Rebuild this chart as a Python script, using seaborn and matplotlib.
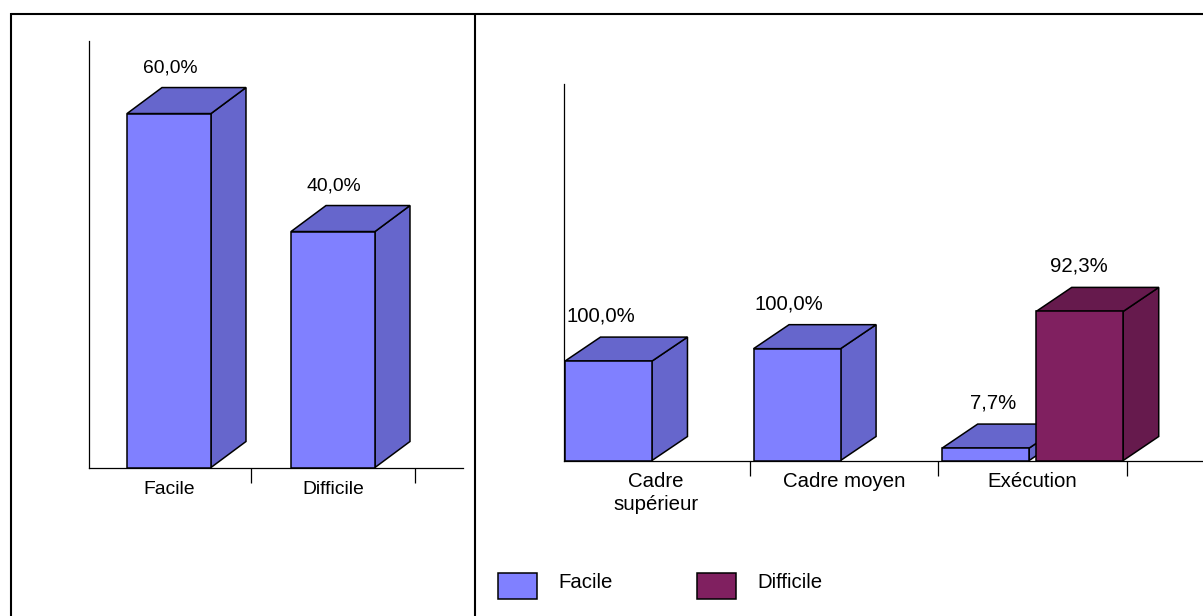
import matplotlib
matplotlib.use("Agg")
import matplotlib.pyplot as plt
from matplotlib.lines import Line2D
from matplotlib.patches import Polygon, Rectangle
import pandas as pd
import seaborn as sns

# Overall answers, in percent
overall_levels = ["Facile", "Difficile"]
overall_percent = [60.0, 40.0]

# Answers per staff category, in head counts
staff_levels = ["Cadre\nsupérieur", "Cadre moyen", "Exécution"]
staff_easy = [8, 9, 1]
staff_hard = [0, 0, 12]

W, H = 1203, 616
DPI = 100
LEFT_TEXT = 13.9
RIGHT_TEXT = 14.7
EASY, EASY_DARK = "#8080FF", "#6666CC"
HARD, HARD_DARK = "#802060", "#661A4D"

sns.set_theme(style="white")
plt.rcParams["font.family"] = ["Liberation Sans", "DejaVu Sans"]


def fx(px):
    return px / W


def fy(py):
    return 1 - py / H


def panel(left, top, right, bottom):
    return fig.add_axes([fx(left), fy(bottom), fx(right - left), (bottom - top) / H])


def fr(value):
    return f"{value:.1f}".replace(".", ",") + "%"


def extrude(ax, bar, depth_x, depth_y, dark, order):
    """Add the top and side faces that turn a flat bar into a box."""
    to_data = ax.transData.inverted()
    x0, y0 = to_data.transform((0, 0))
    x1, y1 = to_data.transform((depth_x, depth_y))
    dx, dy = x1 - x0, y1 - y0
    left, right = bar.get_x(), bar.get_x() + bar.get_width()
    top = bar.get_height()
    style = dict(facecolor=dark, edgecolor="black", linewidth=1.1,
                 joinstyle="miter", clip_on=False, zorder=order)
    ax.add_patch(Polygon([(right, 0), (right + dx, dy), (right + dx, top + dy), (right, top)], **style))
    ax.add_patch(Polygon([(left, top), (left + dx, top + dy), (right + dx, top + dy), (right, top)], **style))
    bar.set_zorder(order + 0.05)
    bar.set_clip_on(False)
    bar.set_joinstyle("miter")


def style_axis(ax, boundaries, pad, tick_length, size):
    sns.despine(ax=ax)
    for spine in ("left", "bottom"):
        ax.spines[spine].set_color("black")
        ax.spines[spine].set_linewidth(0.9)
    ax.set_xlabel("")
    ax.set_ylabel("")
    ax.set_yticks([])
    ax.set_xticks(boundaries, minor=True)
    ax.tick_params(axis="x", which="major", length=0, pad=pad, labelsize=size, colors="black")
    ax.tick_params(axis="x", which="minor", bottom=True, length=tick_length, width=0.9, color="black")
    for label in ax.get_xticklabels():
        label.set_linespacing(1.22)


fig = plt.figure(figsize=(W / DPI, H / DPI), dpi=DPI, facecolor="white")

# Left panel: overall distribution
ax_left = panel(89, 41, 463, 467.5)
sns.barplot(
    data=pd.DataFrame({"level": overall_levels, "percent": overall_percent}),
    x="level", y="percent", color=EASY, saturation=1, width=0.512,
    edgecolor="black", linewidth=1.1, ax=ax_left,
)
ax_left.set_xlim((89 - 169) / 164, (463 - 169) / 164)
ax_left.set_ylim(0, 72.3)
style_axis(ax_left, [0.5, 1.5], 9.6, 11, LEFT_TEXT)
for i, (bar, value) in enumerate(zip(ax_left.patches[:2], overall_percent)):
    extrude(ax_left, bar, 35, 26, EASY_DARK, 3 + i)
    ax_left.annotate(fr(value), (bar.get_x() + bar.get_width() / 2, value),
                     xytext=(1, 46), textcoords="offset pixels", fontsize=LEFT_TEXT,
                     ha="center", va="center", color="black", zorder=10)

# Right panel: distribution per staff category
ax_right = panel(564, 84, 1203, 460.5)
staff_table = pd.DataFrame({
    "category": staff_levels * 2,
    "answer": ["Facile"] * 3 + ["Difficile"] * 3,
    "count": staff_easy + staff_hard,
})
sns.barplot(
    data=staff_table, x="category", y="count", hue="answer",
    hue_order=overall_levels, palette={"Facile": EASY, "Difficile": HARD},
    saturation=1, width=0.9974, gap=0.075, legend=False,
    edgecolor="black", linewidth=1.1, ax=ax_right,
)
ax_right.set_xlim((564 - 655.5) / 188.6, (1203 - 655.5) / 188.6)
ax_right.set_ylim(0, 30.3)
style_axis(ax_right, [0.5, 1.5, 2.5], 8.6, 11, RIGHT_TEXT)

easy_bars = sorted(ax_right.patches[:3], key=lambda b: b.get_x())
hard_bars = sorted(ax_right.patches[3:6], key=lambda b: b.get_x())
label_shift = {(0, "e"): -8, (1, "e"): -8, (2, "e"): 7, (2, "h"): -1}
for i in range(3):
    total = staff_easy[i] + staff_hard[i]
    for key, bar, count, dark in (("e", easy_bars[i], staff_easy[i], EASY_DARK),
                                  ("h", hard_bars[i], staff_hard[i], HARD_DARK)):
        if count == 0:
            bar.set_visible(False)
            continue
        extrude(ax_right, bar, 35.5, 24, dark, 3 + (i * 2) + (key == "h"))
        ax_right.annotate(fr(100 * count / total), (bar.get_x() + bar.get_width() / 2, count),
                          xytext=(label_shift[(i, key)], 45), textcoords="offset pixels",
                          fontsize=RIGHT_TEXT, ha="center", va="center", color="black", zorder=10)

# Legend below the right panel
for level, swatch, left_px in zip(overall_levels, (EASY, HARD), (498, 697)):
    fig.add_artist(Rectangle((fx(left_px), fy(599)), 39 / W, 26 / H, transform=fig.transFigure,
                             facecolor=swatch, edgecolor="black", linewidth=1.1))
    fig.text(fx(left_px + 60), fy(582), level, ha="left", va="center",
             color="black", fontsize=RIGHT_TEXT)

# Table rules around the two panels
rule = dict(color="black", linewidth=1.5, transform=fig.transFigure, solid_capstyle="butt")
fig.add_artist(Line2D([fx(10.5), 1], [fy(14), fy(14)], **rule))
fig.add_artist(Line2D([fx(10.5), fx(10.5)], [fy(13.3), 0], **rule))
fig.add_artist(Line2D([fx(475.5), fx(475.5)], [fy(13.3), 0], **rule))

fig.savefig("out.png", dpi=DPI, facecolor="white")
